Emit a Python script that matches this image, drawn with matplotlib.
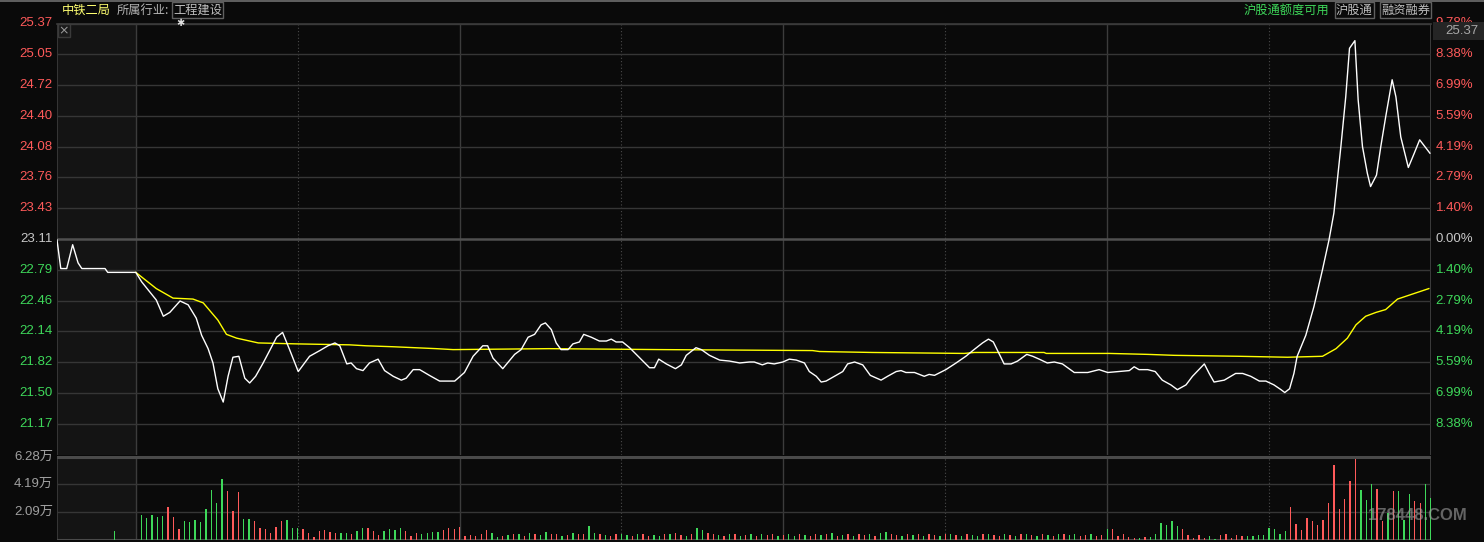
import matplotlib
matplotlib.use("Agg")
from matplotlib import pyplot as plt
from matplotlib.patches import Rectangle

# 中铁二局 分时图

# 价格线 (分钟, 价格), 分钟 <0 为集合竞价
t_price = [-14.6, -13.9, -12.8, -11.7, -10.7, -10.0, -5.7, -5.2, 0,
           1.1, 3.8, 5.1, 6.3, 8.2, 9.7, 11.2, 12.2, 13.4, 14.3, 15.2, 16.2, 17.1, 18.0, 19.1,
           20.2, 21.1, 22.2, 23.6, 26.1, 27.2, 28.5, 30.1, 32.2, 34.1, 35.6, 36.9, 37.8, 39.1,
           39.9, 40.9, 42.1, 43.3, 44.9, 46.1, 47.7, 49.2, 50.1, 51.4, 52.6, 54.4, 56.3, 59.1,
           60.9, 62.5, 64.3, 65.2, 66.2, 68.0, 70.2, 71.4, 72.7, 73.9, 75.1, 75.9, 77.0, 77.9,
           78.8, 80.1, 81.0, 82.2, 83.0, 84.4, 85.9, 87.2, 88.1, 89.0, 90.2, 91.5, 95.2, 96.1,
           96.9, 98.3, 100.0, 101.1, 102.0, 103.8, 104.8, 106.3, 108.2, 110.0, 111.9, 113.7,
           114.6, 116.1, 117.1, 118.3, 119.9, 121.1, 122.4, 123.9, 124.8, 126.1, 127.0, 127.9,
           131.0, 131.9, 133.2, 134.7, 136.1, 138.1, 139.3, 140.9, 141.8, 142.7, 144.3, 146.1,
           147.0, 148.0, 150.1, 152.0, 153.8, 155.1, 156.9, 158.0, 158.9, 160.9, 162.2, 163.4,
           165.1, 166.2, 167.4, 168.9, 170.2, 171.7, 173.9, 176.4, 178.5, 180.1, 182.2, 184.1,
           185.0, 185.9, 187.5, 188.9, 190.2, 191.8, 193.0, 194.6, 195.8, 197.0, 198.0, 198.9,
           199.8, 201.7, 202.9, 203.8, 205.1, 206.6, 208.2, 209.4, 210.9, 212.2, 212.9, 213.8,
           214.6, 215.2, 216.8, 218.3, 219.9, 221.1, 222.0, 223.3, 224.2, 224.9, 225.9, 226.5,
           227.3, 228.2, 228.8, 229.9, 230.7, 231.6, 232.8, 233.5, 234.4, 235.8, 236.9, 237.9,
           239.8]
price = [23.10, 22.80, 22.80, 23.05, 22.86, 22.80, 22.80, 22.76, 22.76,
         22.66, 22.47, 22.30, 22.34, 22.46, 22.42, 22.28, 22.10, 21.96, 21.81, 21.54, 21.40,
         21.67, 21.87, 21.88, 21.65, 21.60, 21.67, 21.81, 22.08, 22.13, 21.95, 21.72, 21.88,
         21.94, 21.99, 22.02, 21.99, 21.80, 21.81, 21.75, 21.73, 21.81, 21.85, 21.73, 21.67,
         21.63, 21.65, 21.74, 21.74, 21.68, 21.62, 21.62, 21.71, 21.88, 21.99, 21.99, 21.86,
         21.75, 21.90, 21.95, 22.08, 22.11, 22.21, 22.23, 22.16, 22.02, 21.95, 21.95, 22.01,
         22.03, 22.11, 22.08, 22.04, 22.04, 22.06, 22.03, 22.03, 21.97, 21.76, 21.76, 21.85,
         21.80, 21.75, 21.79, 21.89, 21.97, 21.95, 21.89, 21.84, 21.83, 21.81, 21.82, 21.82,
         21.79, 21.81, 21.80, 21.82, 21.85, 21.84, 21.81, 21.72, 21.67, 21.61, 21.62, 21.72,
         21.80, 21.82, 21.79, 21.68, 21.63, 21.67, 21.72, 21.73, 21.71, 21.71, 21.67, 21.69,
         21.68, 21.74, 21.81, 21.88, 21.94, 22.02, 22.06, 22.03, 21.80, 21.80, 21.83, 21.90,
         21.88, 21.85, 21.81, 21.82, 21.80, 21.71, 21.71, 21.74, 21.71, 21.72, 21.73, 21.77,
         21.74, 21.74, 21.72, 21.63, 21.58, 21.53, 21.58, 21.67, 21.74, 21.80, 21.70, 21.61,
         21.63, 21.67, 21.70, 21.70, 21.67, 21.62, 21.62, 21.58, 21.53, 21.50, 21.54, 21.70,
         21.88, 22.10, 22.40, 22.79, 23.10, 23.38, 24.08, 24.60, 25.11, 25.19, 24.57, 24.08,
         23.80, 23.66, 23.78, 24.08, 24.39, 24.78, 24.60, 24.18, 23.86, 24.01, 24.15, 24.01]

# 均价线
t_avg = [0, 3.8, 6.9, 10.6, 12.5, 15.2, 16.8, 18.7, 22.7, 29.8, 39.6, 42.7, 47.7, 55.7,
         58.8, 76.5, 97.7, 125.4, 126.7, 136.5, 153.5, 155.4, 168.3, 168.7, 180.4, 187.5,
         192.4, 204.4, 213.4, 219.9, 222.4, 224.5, 226.1, 227.9, 229.8, 231.6, 233.8, 235.9,
         239.6]
avg_price = [22.76, 22.59, 22.49, 22.48, 22.44, 22.26, 22.11, 22.07, 22.02, 22.01, 22.00,
             21.99, 21.98, 21.96, 21.95, 21.96, 21.95, 21.94, 21.93, 21.92, 21.91, 21.92,
             21.92, 21.91, 21.91, 21.90, 21.89, 21.88, 21.87, 21.88, 21.96, 22.07, 22.21,
             22.30, 22.34, 22.37, 22.48, 22.52, 22.59]

# 成交量 (万手), 第1..240分钟
pre_vol = 0.67
volume = [1.87, 1.64, 1.87, 1.72, 1.79, 2.46, 1.72, 0.82, 1.42, 1.34,      # 1-10
          1.49, 1.34, 2.31, 3.73, 2.76, 4.55, 3.66, 2.16, 3.58, 1.57,      # 11-20
          1.57, 1.42, 0.90, 0.82, 0.52, 0.97, 1.42, 1.49, 0.90, 0.90,      # 21-30
          0.82, 0.52, 0.22, 0.67, 0.75, 0.60, 0.52, 0.52, 0.52, 0.45,      # 31-40
          0.67, 0.90, 0.90, 0.67, 0.37, 0.67, 0.82, 0.75, 0.90, 0.67,      # 41-50
          0.30, 0.52, 0.45, 0.52, 0.60, 0.60, 0.75, 0.90, 0.82, 0.97,      # 51-60
          0.30, 0.37, 0.30, 0.45, 0.75, 0.52, 0.22, 0.30, 0.35, 0.45,      # 61-70
          0.40, 0.30, 0.50, 0.40, 0.35, 0.60, 0.45, 0.40, 0.30, 0.35,      # 71-80
          0.50, 0.45, 0.40, 1.00, 0.50, 0.40, 0.35, 0.30, 0.40, 0.45,      # 81-90
          0.35, 0.30, 0.40, 0.45, 0.30, 0.35, 0.30, 0.40, 0.45, 0.50,      # 91-100
          0.35, 0.30, 0.40, 0.85, 0.70, 0.50, 0.40, 0.35, 0.30, 0.40,      # 101-110
          0.45, 0.30, 0.35, 0.40, 0.30, 0.45, 0.35, 0.40, 0.30, 0.35,      # 111-120
          0.40, 0.30, 0.45, 0.35, 0.30, 0.40, 0.35, 0.45, 0.50, 0.30,      # 121-130
          0.35, 0.40, 0.30, 0.45, 0.35, 0.40, 0.30, 0.50, 0.60, 0.40,      # 131-140
          0.35, 0.30, 0.40, 0.35, 0.45, 0.30, 0.40, 0.35, 0.30, 0.40,      # 141-150
          0.45, 0.35, 0.30, 0.40, 0.35, 0.30, 0.40, 0.45, 0.35, 0.30,      # 151-160
          0.40, 0.35, 0.30, 0.40, 0.45, 0.35, 0.30, 0.40, 0.35, 0.30,      # 161-170
          0.40, 0.45, 0.35, 0.40, 0.30, 0.35, 0.40, 0.30, 0.37, 0.82,      # 171-180
          0.82, 0.30, 0.45, 0.22, 0.15, 0.15, 0.22, 0.22, 0.45, 1.27,      # 181-190
          1.12, 1.42, 1.04, 0.82, 0.37, 0.15, 0.37, 0.15, 0.30, 0.07,      # 191-200
          0.37, 0.45, 0.15, 0.37, 0.30, 0.30, 0.30, 0.37, 0.37, 0.90,      # 201-210
          0.82, 0.45, 0.67, 2.46, 1.19, 0.75, 1.64, 1.42, 1.12, 1.49,      # 211-220
          2.76, 5.60, 2.31, 3.06, 4.40, 6.12, 3.73, 2.99, 4.18, 3.81,      # 221-230
          1.40, 2.00, 3.66, 3.66, 1.50, 3.43, 2.91, 2.76, 4.18, 3.13]      # 231-240
# r=红(上涨) g=绿(下跌)
vol_dir = ("gggggrrrgg" "ggggggrrrg" "grrrrrrggg" "rrrrrrrggr"   # 1-40
           "ggrrrggggr" "rrggggrrrr" "rrrrrggrgr" "grgrggrrgr"   # 41-80
           "grrggrgrrg" "grgrrggrgr" "rgrggrrgrg" "rgrgrgrrgr"   # 81-120
           "ggrgrrgrgr" "grgrrgrggr" "rgrgrgrrgr" "grgrggrgrr"   # 121-160
           "grgrgrgrgr" "grggrrgrrg" "rrrrrgrggg" "gggrrrrrgg"   # 161-200
           "rrrrrggggg" "gggrrrrrrr" "rrrrrrgggr" "rgrgggrrgg")  # 201-240

price_levels = [25.37, 25.05, 24.72, 24.40, 24.08, 23.76, 23.43, 23.11,
                22.79, 22.46, 22.14, 21.82, 21.50, 21.17]
pct_labels = ["9.78%", "8.38%", "6.99%", "5.59%", "4.19%", "2.79%", "1.40%", "0.00%",
              "1.40%", "2.79%", "4.19%", "5.59%", "6.99%", "8.38%"]
vol_levels = [6.28, 4.19, 2.09]
vol_labels = ["6.28万", "4.19万", "2.09万"]

W, H = 1484, 542
BG = "#0a0a0a"
RED = "#ff5a5a"
GREEN = "#3ed85a"
GRID = "#363636"
num_font = ["Liberation Sans", "Noto Sans CJK SC"]
cjk_font = ["Noto Sans CJK SC", "DejaVu Sans"]

fig = plt.figure(figsize=(W / 100, H / 100), dpi=100)
fig.patch.set_facecolor(BG)

x0, x1 = 57, 1431
ax = fig.add_axes([x0 / W, (H - 454.5) / H, (x1 - x0) / W, (454.5 - 23.5) / H])
axv = fig.add_axes([x0 / W, (H - 539.5) / H, (x1 - x0) / W, (539.5 - 455.5) / H])

for a in (ax, axv):
    a.set_facecolor(BG)
    a.set_xlim(-14.6, 240)
    for s in a.spines.values():
        s.set_visible(False)
    a.set_xticks([])
    a.set_yticks([])
    a.axvspan(-14.6, 0, color="#141414", zorder=0)
    for m in [0, 60, 120, 180]:
        a.axvline(m, color="#3c3c3c", lw=1, zorder=1)
    for m in [30, 90, 150, 210]:
        a.axvline(m, color="#4a4a4a", lw=0.8, ls=(0, (1, 2)), zorder=1)
    a.axvline(-14.6, color="#3c3c3c", lw=1.2, zorder=1)
    a.axvline(240, color="#444444", lw=1.2, zorder=1)

ax.set_ylim(20.85, 25.37)
prev_close = 23.11
for lv, pl in zip(price_levels, pct_labels):
    if lv == prev_close:
        ax.axhline(lv, color="#505050", lw=1.8, zorder=1)
        c = "#c8c8c8"
    else:
        ax.axhline(lv, color=GRID, lw=1, zorder=1)
        c = RED if lv > prev_close else GREEN
    ax.text(-0.003, lv, f"{lv:.2f}", transform=ax.get_yaxis_transform(), ha="right",
            va="center", color=c, fontsize=9.5, family=num_font)
    ax.text(1.0035, lv, pl, transform=ax.get_yaxis_transform(), ha="left",
            va="center", color=c, fontsize=9.5, family=num_font, clip_on=False)

ax.plot(t_avg, avg_price, color="#ffff00", lw=1.0, zorder=3)
ax.plot(t_price, price, color="#ffffff", lw=1.0, zorder=4)

axv.set_ylim(0, 6.28 * 84 / 83)
axv.axhline(6.28, color="#4a4a4a", lw=2.2, zorder=1)
for lv in vol_levels[1:]:
    axv.axhline(lv, color=GRID, lw=1, zorder=1)
axv.axhline(0, color="#4a4a4a", lw=2.2, zorder=1)
for lv, lb in zip(vol_levels, vol_labels):
    axv.text(-0.003, lv, lb, transform=axv.get_yaxis_transform(), ha="right",
             va="center", color="#a0a0a0", fontsize=9.5, family=num_font)

minutes = list(range(1, len(volume) + 1))
colors = [RED if d == "r" else GREEN for d in vol_dir]
axv.bar(minutes, volume, width=0.25, color=colors, zorder=2)
axv.bar([-4], [pre_vol], width=0.25, color=GREEN, zorder=2)

# 顶部
fig.add_artist(plt.Line2D([0, 1], [1 - 1 / H, 1 - 1 / H], color="#707070", lw=1.2))
ax_line_y = 1 - 23.5 / H
fig.add_artist(plt.Line2D([x0 / W, x1 / W], [ax_line_y, ax_line_y], color="#3c3c3c", lw=1.2))
fig.text(62 / W, 1 - 10 / H, "中铁二局", color="#ffff70", fontsize=8.8, va="center",
         family=cjk_font)
fig.text(117 / W, 1 - 10 / H, "所属行业:", color="#b4b4b4", fontsize=8.8, va="center",
         family=cjk_font)
fig.text(173 / W, 1 - 10 / H, "工程建设", color="#c0c0c0", fontsize=8.8, va="center",
         family=cjk_font,
         bbox=dict(boxstyle="square,pad=0.12", fc="none", ec="#606060", lw=1))
fig.text(180.5 / W, 1 - 23 / H, "✱", color="#e0e0e0", fontsize=7, ha="center",
         va="center", family=["DejaVu Sans"])
fig.text(1244 / W, 1 - 10 / H, "沪股通额度可用", color=GREEN, fontsize=8.8, va="center",
         family=cjk_font)
fig.text(1336 / W, 1 - 10 / H, "沪股通", color="#c0c0c0", fontsize=8.8, va="center",
         family=cjk_font,
         bbox=dict(boxstyle="square,pad=0.12", fc="none", ec="#606060", lw=1))
fig.text(1381 / W, 1 - 10 / H, "融资融券", color="#c0c0c0", fontsize=8.8, va="center",
         family=cjk_font,
         bbox=dict(boxstyle="square,pad=0.12", fc="none", ec="#606060", lw=1))

# 右上角最新价 (盖住 9.78%)
fig.add_artist(Rectangle((1433 / W, 1 - 40 / H), 51 / W, 18 / H, transform=fig.transFigure,
                         fc="#252525", ec="none"))
fig.text(1478 / W, 1 - 31 / H, "25.37", color="#a8a8a8", fontsize=9.5, ha="right",
         va="center", family=num_font)

# 左上角关闭按钮
fig.add_artist(Rectangle((58 / W, 1 - 37 / H), 12 / W, 13 / H, transform=fig.transFigure,
                         fc="#1a1a1a", ec="#3a3a3a", lw=1))
fig.text(64 / W, 1 - 30.5 / H, "×", color="#9a9a9a", fontsize=9, ha="center",
         va="center", family=["DejaVu Sans"])

# 水印
fig.text(1417 / W, 1 - 516 / H, "178448.COM", color="#a0a0a0", alpha=0.6, fontsize=12,
         fontweight="bold", ha="center", va="center", family=["Liberation Sans"])

plt.savefig("out.png", dpi=100, facecolor=BG)
